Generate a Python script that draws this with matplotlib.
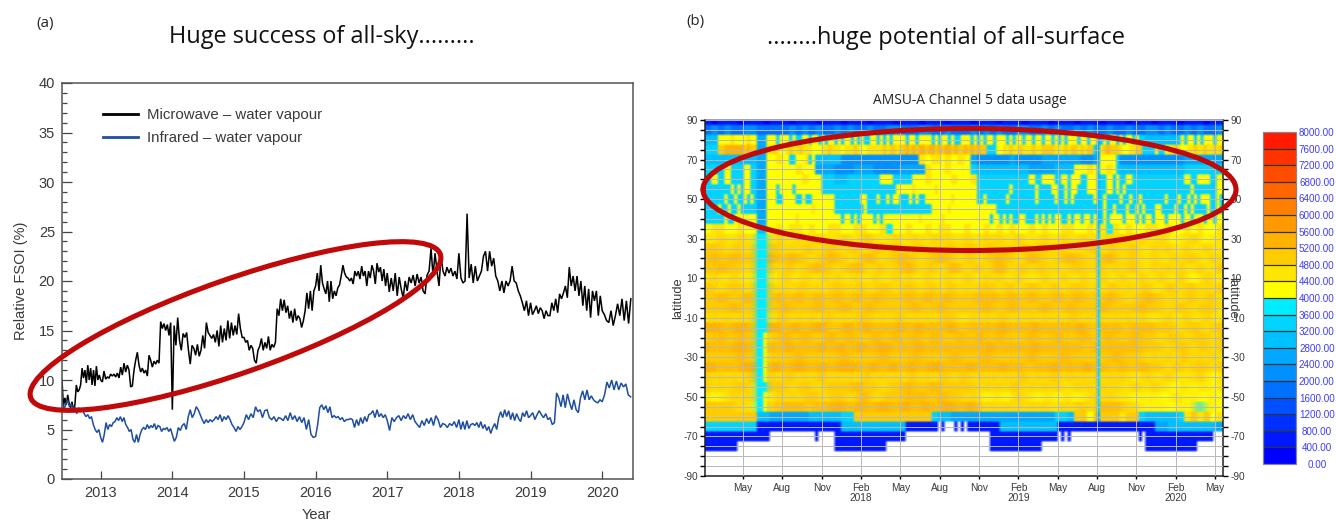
import numpy as np
import matplotlib
matplotlib.use("Agg")
import matplotlib.pyplot as plt
from matplotlib.colors import ListedColormap, BoundaryNorm
from matplotlib.patches import Ellipse

plt.rcParams["axes.unicode_minus"] = False
W, H = 1336, 521
SANS = "Liberation Sans"
TITLE = "Open Sans"

# ---------- panel (a): weekly-ish values, by calendar span ----------
year_spans = [2012.46, 2013, 2014, 2015, 2016, 2017, 2018, 2019, 2020, 2020.43]
mw_2012 = [10, 7.3, 8.2, 7.5, 8.5, 7.6, 7.2, 7.8, 6.9, 7.5, 9.5, 8.8, 9, 9.5, 11.2, 10.2, 11, 9.7, 11.5, 10, 11.2, 9.5, 11, 9.4, 11.4, 10, 10.5]
mw_2013 = [10, 9.8, 10.9, 10.1, 10.3, 10.2, 10.6, 10.4, 10.6, 10.3, 10.7, 10.2, 11.3, 10.5, 11.7, 10.8, 11.5, 11, 9.3, 9.4, 11, 12, 12.8, 11.5, 10.8, 11.2, 10.7, 11, 10.4, 12.5, 12, 11.3, 11.9, 11.6, 12, 11.7, 15.9, 15.2, 15.7, 15, 15.6, 14.5, 15.8]
mw_2014 = [7, 15.5, 13.5, 16.3, 14, 13, 14.7, 14.3, 14.8, 13, 11.6, 13.5, 13.2, 12.5, 13.6, 12.4, 13, 14.5, 13.2, 15.8, 14.8, 14.5, 14.2, 14.6, 13.8, 15, 13.4, 15.5, 13.8, 15.2, 14, 16, 14.2, 15.8, 14.5, 15.5, 14.6, 16.7, 15.2, 14.3]
mw_2015 = [14.3, 13.8, 14, 13, 13.5, 13.2, 12, 11.7, 13, 13.4, 14.2, 13, 13.8, 13.2, 14.4, 13, 13.6, 13.3, 13.8, 17.2, 16.5, 18.2, 17, 18.1, 16.8, 17.5, 16.2, 17, 15.8, 17.2, 16, 16.5, 16.2, 15.3, 16, 17, 18.8, 17.2, 19, 17, 19]
mw_2016 = [19.5, 20.8, 19, 21.6, 19.8, 19.2, 18.7, 20, 17.9, 20, 18.2, 19, 18.5, 19.3, 19.6, 20.5, 21.6, 20.8, 20.4, 20.3, 20, 20.3, 19.7, 21, 20.5, 21, 20.2, 21.5, 20.5, 21, 19.5, 21, 20.3, 21.6, 21, 19.7, 21.8, 20.9, 21.4, 20, 21.2, 19.5]
mw_2017 = [20.8, 18.9, 20.3, 19, 20.8, 18.5, 20.4, 19.2, 18.3, 20, 19, 20.4, 19.8, 20.6, 19.5, 20.7, 19.8, 20.4, 19, 18.7, 20.6, 21, 23.3, 20.5, 22.8, 21, 19.5, 22.5, 21, 20.5, 21.4, 20.8, 21.3, 20.5, 21, 20.2]
mw_2018 = [22.8, 20.3, 19.8, 20, 26.8, 20.3, 21.7, 19.8, 21.5, 20, 20.5, 21, 22.5, 23, 21, 23, 21.5, 22.3, 20.5, 20, 19, 20, 18.8, 20, 19.5, 20, 21.5, 20, 19.8, 19, 18.5, 17.8, 17, 18, 16.5]
mw_2019 = [17.8, 16.6, 17, 17.5, 16.7, 17.3, 17, 16.2, 17, 16.5, 16.5, 17.8, 17, 18.2, 16.8, 18.7, 18.2, 18.8, 19.5, 18.3, 21.4, 19.5, 20.5, 19, 20.5, 18.5, 20, 17.5, 19.5, 17, 19.2, 16.3, 19, 18, 19, 16.5, 18.5]
mw_2020 = [17, 16.6, 16, 15.8, 17, 15.5, 16.5, 17.7, 16.5, 18.2, 16, 18, 15.7, 18.2]

ir_2012 = [8, 7, 7.5, 8, 7.3, 7.6, 7, 7.3, 6.6, 7.2, 7, 7.1, 6.6, 6.3, 6.5, 6.1, 6.3, 5.5, 5, 4.7, 5]
ir_2013 = [4.2, 3.7, 4.5, 5.7, 5, 5.5, 5.3, 5.7, 5.8, 6.2, 5.9, 6.3, 5.8, 6.2, 5.5, 5.2, 4.8, 5, 4, 3.7, 4.5, 3.7, 4.5, 5, 5.2, 5, 5.5, 5.1, 5.4, 5.2, 5.6, 5, 5.4, 5.3, 4.8, 5.1, 5, 5.2, 4.8, 5.1]
ir_2014 = [4.5, 3.8, 4.2, 5.2, 4.9, 5.4, 5.6, 5, 6.3, 7, 6.2, 6.6, 7.3, 7, 6.5, 6, 5.6, 6, 5.7, 6, 5.8, 6, 6.3, 6, 6.5, 5.8, 6.3, 6, 6.4, 6, 5.5, 5.2, 4.8, 5.3, 5, 5.3]
ir_2015 = [5.7, 6.5, 6, 6.6, 6.2, 7.3, 6.8, 7, 6.2, 6.9, 7, 6.2, 6, 6.3, 5.8, 6.2, 6.1, 5.9, 6.4, 5.9, 6.7, 6, 6.4, 5.8, 6.3, 5.7, 6.2, 5, 6, 4.5, 4.2]
ir_2016 = [4.3, 5.5, 7.2, 7.5, 7, 7.4, 6.7, 7.3, 6.2, 6.4, 6.2, 6.3, 6, 6.2, 5.8, 6, 6, 6.1, 6, 5.2, 6, 5.4, 6.2, 5.6, 6.3, 5.8, 6.5, 6.6, 6.9, 6.2, 7, 6.3, 6.6, 6.2, 6.5]
ir_2017 = [5.9, 4.9, 6.2, 5.8, 6.2, 6.4, 5.9, 6.4, 6.1, 6.6, 6, 6.5, 5.8, 5.5, 5.2, 5.9, 5.4, 6.1, 5.6, 6.2, 5.4, 6.4, 6, 5.2, 5.6, 5.5, 5.2, 5.6, 5.4, 5.8, 5.2]
ir_2018 = [6, 5, 5.8, 5, 5.9, 5.1, 5.5, 5.6, 5.4, 5.7, 5.2, 5.8, 5.1, 5.5, 4.9, 5.3, 4.6, 5.2, 5.6, 5, 6.2, 6.8, 6.2, 7, 6.3, 6.9, 6, 6.7, 5.9, 6.6, 6.1, 5.8, 6.7, 6.3, 6.9, 6.2]
ir_2019 = [6.4, 6.7, 6, 6.5, 6.9, 6.5, 6.2, 6.6, 6, 6.2, 5.5, 5.7, 8.7, 8.2, 7.3, 8.5, 7.2, 8.6, 7.7, 7, 8, 7, 6.7, 8.2, 8.9, 8, 9, 8, 8.4, 8, 7.8, 7.7, 8]
ir_2020 = [7.8, 8.5, 9.8, 9.2, 10, 9, 9.9, 9, 9.7, 9.3, 9.6, 8.5, 8.3]

mw_years = [mw_2012, mw_2013, mw_2014, mw_2015, mw_2016, mw_2017, mw_2018, mw_2019, mw_2020]
ir_years = [ir_2012, ir_2013, ir_2014, ir_2015, ir_2016, ir_2017, ir_2018, ir_2019, ir_2020]
year_ticks = [2013, 2014, 2015, 2016, 2017, 2018, 2019, 2020]
series_names = ["Microwave \u2013 water vapour", "Infrared \u2013 water vapour"]

# ---------- panel (b): colour level per lat band (rows) and per time bin (cols) ----------
# one base-36 digit = level (value / 400); "." = no data
# rows hold 80 bins, or 160 bins where the picture has finer stripes
lat_centres = [90 - 5 * i for i in range(37)]
usage_rows = [
 "1011101110 1110111011 1011101110 1110111011 1011101110 1110111011 1011101110 1110111011",
 "4545445544 4445454544 5454454455 4445544544 4545454455 4454544545 4454454455 4544545445",
 "7777aaaabaaaabaa6666 aa8aaa8a88aa8aa8a8aa 8a8aa8a8a88aa8a8a8aa aa8aa8aaaa8a8aa8a88a aa8a8a8aa8aaa8a8aa8a a8aa8aa8a8a8aaa8aa8a aa8a8aa8a8aa8a887777 7777778a8aa8a8aaa8aa",
 "8888ccddddddcdcc6666 bcbaabcbbcbbbaaabbcb bbabbbcbaabbbbbcbccb ccdcdcddcddcdcddcdcc dcdcdcc888aabbcbbcbb bcbbccccbbbcbccbcbcc 8bbcdcccbaabbcc8888a 88abbcbaabbcbbcbbcbc",
 "77777777777777776666 aabbaa88aaab8a777777 77555555555555555555 555555bbaabbbabbaabb aa665555555555665555 55556666666666665555 66aaaaa8555555555555 55555555666666666666",
 "888888aa8888aa886666 aaaaaaaabbaaaa666666 55555566666655555555 66666666bbaaaabbaaaa aa887777777777777777 66666666777777aaaabb aaaabba8777777777777 77777777888888888888",
 "88aa88aa8888aa886666 aaaaaaaaaabbaaaa8888 77778888888888aaaa88 8888aaaabbaaaaaabbaa aabb8888888888888888 aa88aaaa88aa8aaa88aa aa88aa8a88aa88888888 88888888aa88aaaa88aa",
 "88888888a8a8aa886666 aa8aaaa8aaaaaaaa8888 8888888888888888888a aaaabaaaaaabaaaaaaaa aaaa8888888888a88888 88a8888aa88a8aa888aa aa88aa8a8a8888888888 8888888888a8888888aa",
 "888888a88a88a8a86666 aa88aaaa88a88aaaaaaa 88888888aa888a88a8aa 888a8a88aaaaaaaabaaa aaaa88a888888a888888 88a88888a88a8a888888 a88a8888a88a88a88888 88a888a88a8a8aaa88a8",
 "8888a88a88a888886666 aaaaaaaaaaaaabaaaaaa 888888888a8888888888 8888888888aaaaabaaaa aaaaaaaaaa8888888888 88888888888888888888 888a88a888a88a8a888a a8888a88a8a8888a88a8",
 "888888a88aaaaaaa6666 aaaaaaaabaaaaaaaaaaa aa8aa8a8aaaa8a8aaaaa aaaaaabaaaaaabaaaaaa aaaaaaaa8aa8a8a88aa8 88a8a8a8aa88a8aa8aa8 aa8a8aaaa8aaa8a8aa8a aa8aaaa8aa8aaa8aa8aa",
 "abbaabaa77 ababbabaab baabbaab9a abaababbaa baabababaa babaabbaab ab9babaabb abaababaab",
 "bbcbbcbb99 bcbbcbbcbb bcbbccbbbc bbcbbcbcbb cbbcbcbbcb bbcbbcbbcb bbcbcbbcbb cbabbcbabb",
 "cccbccbc99 ccbcbccbcc cbccbcccbc cbccbcbccb ccbccbcbcc bccbccbcbc cbccbccbbc bcbbcbbcbb",
 "cdccdccc99 dccdccbccd ccbccdcbcc dccbccdccb ccbccdccbc dccbccdccb ccdcbccbbc bbcbccbbcb",
 "ccdcccbc99 cbccbccdcc bccdcbccbc cdcbccbcdc bccbcdcbcc bccbcbcccb ccbcbccbbc bcbcbbcbbc",
 "bcbbcbbb99 bbcbbcbbcb cbbcbbcbbc bcbbcbbcbb cbbcbcbbcb bbcbbcbbcb bcbbcbbcbb cbbcbabcbb",
 "ccbcccbc99 cbcbccbcbc ccbccbcccb cccbccbccb cbcccbccbc ccbccbcccb cbccbcbccb bccbccbcbc",
 "ccdcccdc99 cdccdccdcc dccdccdccc cdccdccdcc ccdcdccdcc dcccdccdcc ccdccbccdc cbcbccbccb",
 "ccccdccc99 ccdccccdcc cdcccdcccc ccdcccdccc cccdcccdcc ccdcccdccc cdcccccdcc cbcccbcccb",
 "bcbcbcbc99 bccbcbcbcc bcbcccbcbc cbcbcbcccb bcbcbccbcb cbcbcbccbc bcbcbcbcbb bcbbcbbcbb",
 "dddcdddc99 ddcddcdddc cddcddcdcd dcddcdcddc cdcdcddcdc ddcdcdcddc cdcdccdcdc cccbcccbcc",
 "ccdccdcc9a ccdccdcccd ccdcccdccd ccdccdcccd ccdccdcccc dcccdcccdc ccdcccdccc bcccbcccbc",
 "dcdcdddc9a dcddcdcddc ddcddcdddc dcddcdcdcd cdcddcdcdc ddcdcdcdcc dcdcdcdccc cbcccbccbc",
 "cccccdcc9a ccccdccccc cdcccccdcc ccdcccccdc cccdcccccc dccccdcccc cccdccccbc bcbccbcbcb",
 "ddcdcddd9a ddcdddcddc ddddcddcdd cddcdddcdc ddcdcddcdc cdcddcdcdd cdccdccdcc cbccbcccbc",
 "cbcbcbcc9a cbccbcbccb cbcbccbcbc bccbcbccbc cbcbcbcbcc bcbccbcbcb cbcbcbbbcb bcbbbbcbab",
 "cbcbcccb99 cccbcccbcc cccdcccbcc cdcccdcccc ccbcbcbccb cbcbcbbcbc bcbcbbcbbc bbabbabbab",
 "babbcbcb9a bcbcbcccbc ccbcdcbccc cdcdccdccc bcbabbabcb babbabbabb cbcbbbabab aabbabaaba",
 "cccccbca9a ccdcdccdcd ddcddcdddc ddcddcdddc ddcbcbcbcb cbcbbcbccb cdcdcbcaba baabab9aba",
 "cccccccc77 6666667777 788ccccccc ccccc87766 6666666666 6666887cca ccccbcc877 7778bcbcab",
 "88888888888888881111 11111111111111111111 11777777777777777777 771111111111.1...1. 1.111111111177777777 77777777771111111111 11111111111111111111 66667777777777777776",
 "11111111111111111111 ..............1..... 11111111111111111111 11.................. ........111111111111 111111111.1.1....... ..............1.1111 11111111111111111...",
 "11111..... .......... 11111111.. .......... ....111111 11........ ........11 111111....",
 ".......... .......... .......... .......... .......... .......... .......... ..........",
 ".......... .......... .......... .......... .......... .......... .......... ..........",
 ".......... .......... .......... .......... .......... .......... .......... ..........",
]
# narrow outage stripe in Aug 2019: level per lat band
stripe_month = 30.15
stripe_levels = "146667777777" "888888888888888888" "61" "....."

month_ticks = [3, 6, 9, 12, 15, 18, 21, 24, 27, 30, 33, 36, 39]
month_labels = ["May", "Aug", "Nov", "Feb\n2018", "May", "Aug", "Nov", "Feb\n2019", "May", "Aug", "Nov", "Feb\n2020", "May"]
level_step = 400
level_count = 20
colour_levels = ["#0000ff", "#0018ff", "#0030ff", "#0050ff", "#0070ff", "#0090ff", "#00a8ff", "#00c0ff", "#00d4ff", "#00ecff",
                 "#ffff00", "#ffe600", "#ffcc00", "#ffb300", "#ff9900", "#ff8000", "#ff6600", "#ff4d00", "#ff3300", "#ff1a00"]


def px_axes(fig, l, t, r, b, **kw):
    return fig.add_axes([l / W, 1 - b / H, (r - l) / W, (b - t) / H], **kw)


def decode(s):
    s = s.replace(" ", "")
    return [np.nan if c == "." else int(c, 36) for c in s]


def level_matrix(rows, n):
    out = []
    for r in rows:
        v = decode(r)
        if len(v) <= n // 2 + 2:
            v = list(np.repeat(v, 2))
        v = v[:n]
        v = v + [v[-1]] * (n - len(v))
        out.append(v)
    return np.array(out, dtype=float)


fig = plt.figure(figsize=(W / 100, H / 100), dpi=100, facecolor="white")

# ---- panel a ----
ax = px_axes(fig, 62, 83, 633, 479)
ink = "#3a3a3a"
for yrs, col, name in ((mw_years, "#000000", series_names[0]), (ir_years, "#1f4ea1", series_names[1])):
    xs, ys = [], []
    for i, vals in enumerate(yrs):
        xs.extend(np.linspace(year_spans[i], year_spans[i + 1], len(vals), endpoint=False))
        ys.extend(vals)
    ax.plot(xs, ys, color=col, lw=1.1, label=name, solid_joinstyle="miter")
ax.set_xlim(2012.46, 2020.43)
ax.set_ylim(0, 40)
ax.set_xticks(year_ticks)
ax.set_yticks(range(0, 41, 5))
ax.set_yticks(range(0, 41), minor=True)
ax.tick_params(axis="y", which="major", direction="in", length=7.2, width=0.9, color="#444444",
               labelsize=10.5, labelcolor=ink, pad=5)
ax.tick_params(axis="x", which="major", direction="in", length=5.8, width=0.9, color="#444444",
               labelsize=10.5, labelcolor=ink, pad=5)
ax.tick_params(axis="y", which="minor", direction="in", length=3.6, width=0.9, color="#444444")
for lab in ax.get_xticklabels() + ax.get_yticklabels():
    lab.set_family(SANS)
for s in ax.spines.values():
    s.set_color("#555555")
    s.set_linewidth(1.1)
ax.set_xlabel("Year", family=SANS, fontsize=10.5, color=ink, labelpad=6, x=0.445)
ax.set_ylabel("Relative FSOI (%)", family=SANS, fontsize=10.5, color=ink, labelpad=8)
leg = ax.legend(loc="upper left", bbox_to_anchor=(0.048, 0.97), frameon=False, handlelength=2.33, handletextpad=0.6,
                labelspacing=0.58, prop={"family": SANS, "size": 10.8})
for t in leg.get_texts():
    t.set_color(ink)
for l in leg.get_lines():
    l.set_linewidth(2.0)

# ---- panel b ----
bx = px_axes(fig, 705, 120, 1223, 476)
cmap = ListedColormap(colour_levels)
norm = BoundaryNorm(np.arange(level_count + 1) * level_step, cmap.N)
ncols = 160
t0, t1 = 0.1, 39.6
t_edges = np.linspace(t0, t1, ncols + 1)
L = level_matrix(usage_rows, ncols)
L[2:30, 19] = L[2:30, 20]   # the spring 2017 outage ends a little before its last bin
Z = (L + 0.5) * level_step
rgba = cmap(norm(np.ma.masked_invalid(Z)))
rgba[np.isnan(Z)] = (1, 1, 1, 1)
sharp = rgba.copy()
# the source panel is a soft raster: soften the low-latitude rows along time
soft = np.array([1, 2, 3, 2, 1]) / 9
for r in range(12, 30):
    for ch in range(3):
        rgba[r, :, ch] = np.convolve(np.pad(rgba[r, :, ch], 2, mode="edge"), soft, mode="valid")
# both outage stripes stay sharp
rgba[:, 16:19] = sharp[:, 16:19]
stripe_col = np.searchsorted(t_edges, stripe_month) - 1
stripe_vals = np.ma.masked_invalid((np.array(decode(stripe_levels), dtype=float) + 0.5) * level_step)
stripe_rgba = cmap(norm(stripe_vals))
stripe_rgba[stripe_vals.mask] = (1, 1, 1, 1)
rgba[:, stripe_col] = stripe_rgba
rgba = np.repeat(rgba, 4, axis=0)
half = 2.5
bx.imshow(rgba, extent=(t0, t1, lat_centres[-1] - half, lat_centres[0] + half), origin="upper", aspect="auto",
          interpolation="bilinear", zorder=1)
bx.set_xlim(t0, t1)
bx.set_ylim(-90, 90)
bx.set_xticks(month_ticks)
bx.set_xticklabels(month_labels, family=SANS, fontsize=7.3, color=ink, linespacing=1.0)
bx.set_yticks(range(-90, 91, 20))
bx.set_yticks(range(-90, 91, 5), minor=True)
bx.grid(which="both", color="#b8b8b8", lw=0.7, zorder=2)
bx.set_axisbelow(False)
bx.tick_params(axis="y", which="major", left=True, right=True, labelleft=True, labelright=True,
               length=3.6, width=1, labelsize=7.3, labelcolor=ink, pad=1.5)
bx.tick_params(axis="y", which="minor", left=True, right=True, length=3.6, width=1)
bx.tick_params(axis="x", length=2.5, width=1, pad=2.5)
for lab in bx.get_yticklabels():
    lab.set_family(SANS)
for side, s in bx.spines.items():
    s.set_linewidth(1.1)
    s.set_color("#222222" if side != "top" else "#888888")
bx.set_ylabel("latitude", family=SANS, fontsize=9.3, color=ink, labelpad=-1)
bx.text(1.0068, 0.5, "latitude", transform=bx.transAxes, rotation=270, ha="left", va="center",
        family=SANS, fontsize=9.3, color=ink)

# ---- colour bar ----
cax = px_axes(fig, 1263, 132, 1296, 464)
cb = fig.colorbar(plt.cm.ScalarMappable(norm=norm, cmap=cmap), cax=cax, drawedges=True,
                  ticks=np.arange(level_count + 1) * level_step, spacing="uniform")
cb.dividers.set_color("#333333")
cb.dividers.set_linewidth(0.9)
cb.outline.set_edgecolor("#888888")
cb.outline.set_linewidth(0.9)
cax.tick_params(axis="y", length=0, pad=15, labelsize=7.1, labelcolor="#3c3cff")
cax.set_yticklabels([f"{v:.2f}" for v in np.arange(level_count + 1) * level_step], family=SANS, ha="center")

# ---- annotation layer in pixel coordinates ----
ov = fig.add_axes([0, 0, 1, 1], facecolor="none", zorder=5)
ov.set_xlim(0, W)
ov.set_ylim(H, 0)
ov.axis("off")
red = "#c00a0a"
ov.add_patch(Ellipse((235.5, 326), 434, 94, angle=-19.3, fill=False, ec=red, lw=3.7))
ov.add_patch(Ellipse((969.5, 189.5), 533, 122, fill=False, ec=red, lw=3.7))
ov.text(36, 23, "(a)", family=TITLE, fontsize=10.8, color="#222222", va="center")
ov.text(686, 22, "(b)", family=TITLE, fontsize=10.8, color="#222222", va="center")
ov.text(322, 37, "Huge success of all-sky.........", family=TITLE, fontsize=16.9, color="#111111", ha="center", va="center")
ov.text(946, 38, "........huge potential of all-surface", family=TITLE, fontsize=17, color="#111111", ha="center", va="center")
ov.text(970, 100, "AMSU-A Channel 5 data usage", family=TITLE, fontsize=9.9, color="#222222", ha="center", va="center")

fig.savefig("out.png", dpi=100, facecolor="white")
